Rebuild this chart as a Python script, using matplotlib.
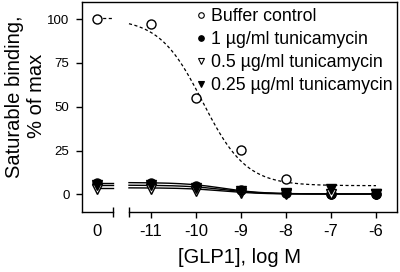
import matplotlib
matplotlib.use("Agg")
import matplotlib.pyplot as plt
from matplotlib.lines import Line2D
import numpy as np

plt.rcParams['font.family'] = ['Liberation Sans', 'DejaVu Sans']
plt.rcParams['axes.unicode_minus'] = False

# ── data ──────────────────────────────────────────────
tick_labels = ["0", "-11", "-10", "-9", "-8", "-7", "-6"]
log_conc = [-11, -10, -9, -8, -7, -6]
ZERO_POS = -12.2          # where the "0" (no GLP1) point sits, left of the break
BREAK_L, BREAK_R = -11.844, -11.489

buffer_ctrl = [100, 97.2, 55.1, 25.6, 8.7, 0.4, 0.1]
tun_1 = [6.8, 6.8, 4.9, 2.3, 0.7, 0.3, 0.2]
tun_05 = [3.4, 3.4, 1.9, 0.9, 0.4, 0.2, 0.1]
tun_025 = [5.3, 5.3, 3.5, 2.2, 0.9, 3.4, 0.2]

# sigmoid fit params: top, bottom, logEC50, hill
fit_buffer = (100.5, 5.0, -9.85, 0.9)
fit_1 = (6.8, 0.3, -9.4, 1.0)
fit_05 = (3.8, 0.2, -9.4, 1.0)
fit_025 = (5.3, 0.3, -9.4, 1.0)

labels = ["Buffer control", "1 \u00b5g/ml tunicamycin",
          "0.5 \u00b5g/ml tunicamycin", "0.25 \u00b5g/ml tunicamycin"]


def sigmoid(x, top, bottom, ec50, hill):
    return bottom + (top - bottom) / (1 + 10 ** ((x - ec50) * hill))


fig = plt.figure(figsize=(4, 2.72), dpi=100)
ax = fig.add_axes([0.205, 0.2206, 0.7875, 0.7734])
ax.set_xlim(-12.533, -5.533)
ax.set_ylim(-10, 110)

xpos = [ZERO_POS] + log_conc
xfit = np.linspace(BREAK_R, -6, 200)

series = [
    (buffer_ctrl, fit_buffer, dict(marker="o", mfc="white"), (0, (2.5, 2.0))),
    (tun_1, fit_1, dict(marker="o", mfc="black"), "-"),
    (tun_05, fit_05, dict(marker="v", mfc="white"), "-"),
    (tun_025, fit_025, dict(marker="v", mfc="black"), "-"),
]

handles = []
for vals, fit, mk, ls in series:
    lw = 0.9 if ls != "-" else 1.0
    ax.plot(xfit, sigmoid(xfit, *fit), color="black", lw=lw, ls=ls, zorder=2)
    ax.plot([ZERO_POS, BREAK_L], [fit[0], fit[0]], color="black", lw=lw, ls=ls, zorder=2)
    ax.plot(xpos, vals, ls="none", mec="black", ms=6.5, mew=1.0, zorder=3, **mk)
    handles.append(Line2D([], [], ls="none", mec="black", ms=4.0, mew=0.8, **mk))

ax.legend(handles, labels, loc="upper left", bbox_to_anchor=(0.34, 1.0),
          frameon=False, fontsize=12.8, handlelength=0.6, handletextpad=0.3,
          labelspacing=0.34, borderaxespad=0.1, borderpad=0.25)

# broken x axis drawn by hand
ax.spines["bottom"].set_visible(False)
for s in ["left", "top", "right"]:
    ax.spines[s].set_linewidth(1.0)
xt = ax.get_xaxis_transform()
ax.plot([-12.533, BREAK_L], [0, 0], color="black", lw=1.0, transform=xt, clip_on=False)
ax.plot([BREAK_R, -5.533], [0, 0], color="black", lw=1.0, transform=xt, clip_on=False)
ax.plot([BREAK_L, BREAK_R], [0, 0], ls="none", marker="|", ms=6.5, mew=1.0,
        color="black", transform=xt, clip_on=False)

ax.set_xticks(xpos)
ax.set_xticklabels(tick_labels, fontsize=12)
ax.xaxis.get_major_ticks()[0].tick1line.set_visible(False)
ax.tick_params(axis="x", length=4, width=1.0, pad=5)
ax.set_yticks([0, 25, 50, 75, 100])
ax.tick_params(axis="y", length=4, width=1.0, labelsize=9.5, pad=5)

ax.set_xlabel("[GLP1], log M", fontsize=14.5, labelpad=6)
ax.set_ylabel("Saturable binding,\n% of max", fontsize=14.5)
ax.yaxis.set_label_coords(-0.115, 0.55)

fig.savefig("out.png", dpi=100)
